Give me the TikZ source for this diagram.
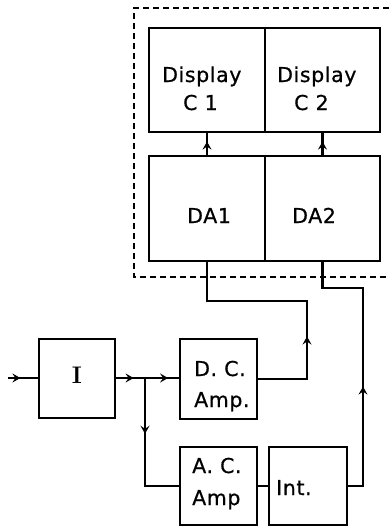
\documentclass[tikz,border=0pt]{standalone}
\usepackage{fontspec}
\setsansfont{DejaVu Sans}[LetterSpace=3,FakeBold=0.6]
\usetikzlibrary{arrows.meta,decorations.markings}
\begin{document}
\begin{tikzpicture}[x=1pt,y=-1pt,
  box/.style={draw,line width=2.2pt,inner sep=0pt,outer sep=0pt},
  lbl/.style={anchor=base west,inner sep=0pt,font=\sffamily\fontsize{20.5}{20.5}\selectfont},
  wire/.style={line width=2.2pt},
  midarrow/.style={postaction={decorate},decoration={markings,
    mark=at position #1 with {\arrow{Stealth[length=8pt,width=9pt,inset=3pt]}}}}]
\useasboundingbox (0,0) rectangle (389,527);
% dashed enclosure (open on the right)
\draw[line width=2pt,dash pattern=on 6pt off 4pt] (389,8) -- (134,8) -- (134,277) -- (389,277);
% boxes
\node[box,minimum width=116pt,minimum height=104pt] (c1) at (207,80) {};
\node[box,minimum width=115pt,minimum height=104pt] (c2) at (322.5,80) {};
\node[box,minimum width=116pt,minimum height=105pt] (da1) at (207,208.5) {};
\node[box,minimum width=115pt,minimum height=105pt] (da2) at (322.5,208.5) {};
\node[box,minimum width=76pt,minimum height=79pt] (i) at (77,378.5) {};
\node[box,minimum width=77pt,minimum height=80pt] (dc) at (218.5,379) {};
\node[box,minimum width=77pt,minimum height=78pt] (ac) at (218.5,486) {};
\node[box,minimum width=78pt,minimum height=78pt] (int) at (308,486) {};
% labels
\node[lbl] (t1) at (162,82) {Display};
\node[lbl] (t2) at (183,110) {C 1};
\node[lbl] (t3) at (277,82) {Display};
\node[lbl] (t4) at (294,110) {C 2};
\node[lbl] (t5) at (187,223) {DA1};
\node[lbl] (t6) at (292,223) {DA2};
\node[anchor=base,inner sep=0pt,font=\rmfamily\bfseries\fontsize{24}{24}\selectfont] (t7) at (77,383) {I};
\node[lbl] (t8) at (194,376) {D. C.};
\node[lbl] (t9) at (194,407) {Amp.};
\node[lbl] (t10) at (192,473) {A. C.};
\node[lbl] (t11) at (192,505) {Amp};
\node[lbl] (t12) at (276,495) {Int.};
% coordinates
\coordinate (in) at (8,378);
\coordinate (br) at (145,378);
\coordinate (k1) at (307,301);
\coordinate (k2) at (363,288);
% connectors
\draw[wire,midarrow=0.4] (in) -- (in -| i.west);
\draw[wire,midarrow=0.62] (br -| i.east) -- (br);
\draw[wire,midarrow=0.66] (br) -- (br -| dc.west);
\draw[wire,midarrow=0.39] (br) |- (ac.west);
\draw[wire] (ac.east) -- (int.west);
\draw[wire,midarrow=0.345] (dc.east) -| (k1) -| (da1.south);
\draw[wire,midarrow=0.41] (int.east) -| (k2) -| (da2.south);
\draw[wire,midarrow=0.6] (da1.north) -- (c1.south);
\draw[wire,midarrow=0.6] (da2.north) -- (c2.south);
\end{tikzpicture}
\end{document}
